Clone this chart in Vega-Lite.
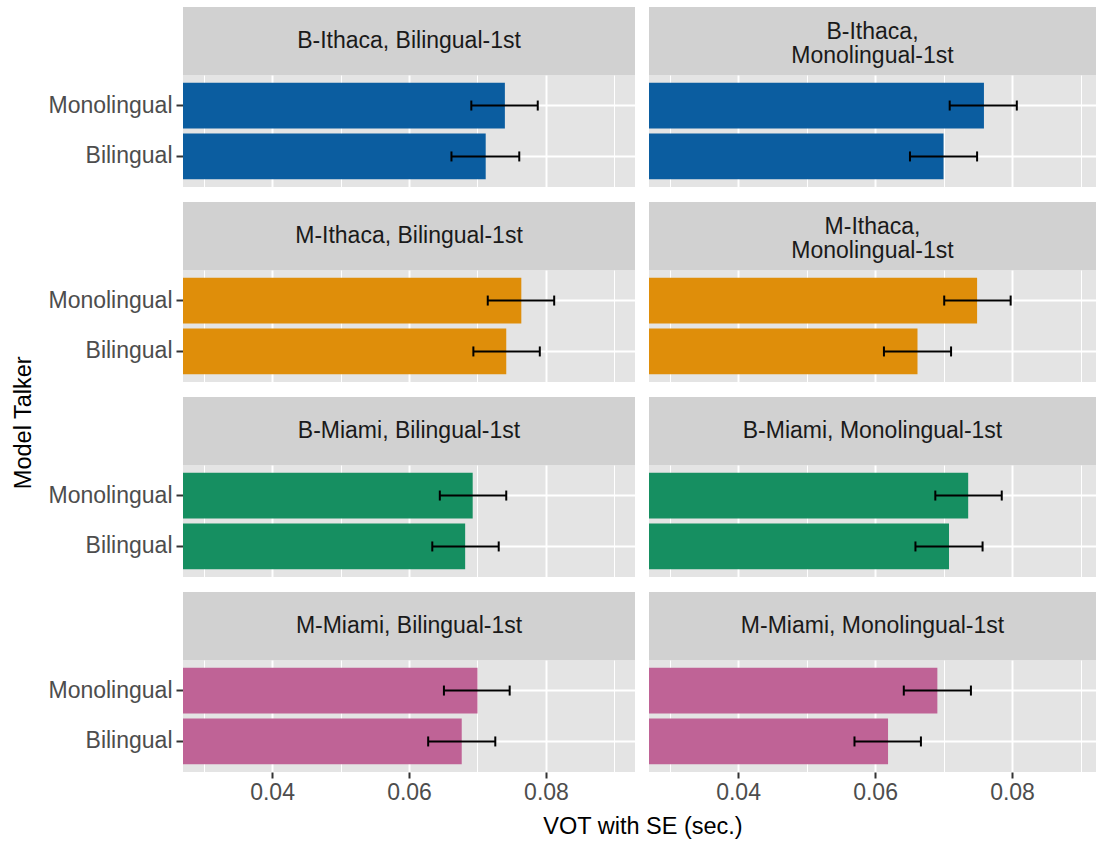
{
  "$schema": "https://vega.github.io/schema/vega-lite/v6.json",
  "padding": {"left": 12, "top": 7, "right": 0, "bottom": 0},
  "background": "#FFFFFF",
  "title": {"text": "Model Talker", "orient": "left", "anchor": "middle", "frame": "bounds", "fontSize": 23.5, "fontWeight": "normal", "font": "Liberation Sans", "color": "#000000", "offset": 12},
  "datasets": {
    "vot": [
      {"talker": "B-Ithaca", "block": "Bilingual-1st", "speaker": "Monolingual", "vot": 0.0740, "lo": 0.0691, "hi": 0.0788},
      {"talker": "B-Ithaca", "block": "Bilingual-1st", "speaker": "Bilingual", "vot": 0.0712, "lo": 0.0662, "hi": 0.0761},
      {"talker": "B-Ithaca", "block": "Monolingual-1st", "speaker": "Monolingual", "vot": 0.0759, "lo": 0.0709, "hi": 0.0807},
      {"talker": "B-Ithaca", "block": "Monolingual-1st", "speaker": "Bilingual", "vot": 0.0700, "lo": 0.0651, "hi": 0.0749},
      {"talker": "M-Ithaca", "block": "Bilingual-1st", "speaker": "Monolingual", "vot": 0.0764, "lo": 0.0715, "hi": 0.0812},
      {"talker": "M-Ithaca", "block": "Bilingual-1st", "speaker": "Bilingual", "vot": 0.0742, "lo": 0.0694, "hi": 0.0791},
      {"talker": "M-Ithaca", "block": "Monolingual-1st", "speaker": "Monolingual", "vot": 0.0749, "lo": 0.0701, "hi": 0.0798},
      {"talker": "M-Ithaca", "block": "Monolingual-1st", "speaker": "Bilingual", "vot": 0.0662, "lo": 0.0613, "hi": 0.0711},
      {"talker": "B-Miami", "block": "Bilingual-1st", "speaker": "Monolingual", "vot": 0.0693, "lo": 0.0645, "hi": 0.0742},
      {"talker": "B-Miami", "block": "Bilingual-1st", "speaker": "Bilingual", "vot": 0.0682, "lo": 0.0634, "hi": 0.0731},
      {"talker": "B-Miami", "block": "Monolingual-1st", "speaker": "Monolingual", "vot": 0.0736, "lo": 0.0688, "hi": 0.0785},
      {"talker": "B-Miami", "block": "Monolingual-1st", "speaker": "Bilingual", "vot": 0.0708, "lo": 0.0659, "hi": 0.0757},
      {"talker": "M-Miami", "block": "Bilingual-1st", "speaker": "Monolingual", "vot": 0.0700, "lo": 0.0651, "hi": 0.0747},
      {"talker": "M-Miami", "block": "Bilingual-1st", "speaker": "Bilingual", "vot": 0.0677, "lo": 0.0628, "hi": 0.0726},
      {"talker": "M-Miami", "block": "Monolingual-1st", "speaker": "Monolingual", "vot": 0.0691, "lo": 0.0642, "hi": 0.0740},
      {"talker": "M-Miami", "block": "Monolingual-1st", "speaker": "Bilingual", "vot": 0.0619, "lo": 0.0570, "hi": 0.0667}
    ],
    "strips": [
      {"talker": "B-Ithaca", "block": "Bilingual-1st", "label": "B-Ithaca, Bilingual-1st"},
      {"talker": "B-Ithaca", "block": "Monolingual-1st", "label": "B-Ithaca,\nMonolingual-1st"},
      {"talker": "M-Ithaca", "block": "Bilingual-1st", "label": "M-Ithaca, Bilingual-1st"},
      {"talker": "M-Ithaca", "block": "Monolingual-1st", "label": "M-Ithaca,\nMonolingual-1st"},
      {"talker": "B-Miami", "block": "Bilingual-1st", "label": "B-Miami, Bilingual-1st"},
      {"talker": "B-Miami", "block": "Monolingual-1st", "label": "B-Miami, Monolingual-1st"},
      {"talker": "M-Miami", "block": "Bilingual-1st", "label": "M-Miami, Bilingual-1st"},
      {"talker": "M-Miami", "block": "Monolingual-1st", "label": "M-Miami, Monolingual-1st"}
    ]
  },
  "spacing": 15,
  "vconcat": [
    {"hconcat": [
      {"vconcat": [
        {"width": 452, "height": 68, "view": {"fill": "#D1D1D1", "stroke": null}, "data": {"name": "strips"}, "transform": [{"filter": "datum.talker == 'B-Ithaca' && datum.block == 'Bilingual-1st'"}], "mark": {"type": "text", "fontSize": 23, "color": "#1A1A1A", "lineBreak": "\n", "lineHeight": 24, "baseline": "middle", "align": "center"}, "encoding": {"text": {"field": "label", "type": "nominal"}}},
        {"width": 452, "height": 112, "view": {"fill": "#E4E4E4", "stroke": null}, "data": {"name": "vot"}, "transform": [{"filter": "datum.talker == 'B-Ithaca' && datum.block == 'Bilingual-1st'"}],
         "encoding": {"y": {"field": "speaker", "type": "nominal", "scale": {"domain": ["Monolingual", "Bilingual"], "paddingInner": 0.1, "paddingOuter": 0.15}, "axis": {"title": null, "domain": false, "labels": true, "labelFontSize": 23, "labelColor": "#4D4D4D", "labelPadding": 4, "ticks": true, "tickSize": 7, "tickWidth": 2, "tickColor": "#333333", "grid": true, "gridColor": "#FFFFFF", "gridWidth": 2, "bandPosition": 0.5}}},
         "layer": [
          {"mark": {"type": "bar", "color": "#0B5DA0", "clip": true}, "encoding": {"x": {"field": "vot", "type": "quantitative", "scale": {"domain": [0.027, 0.093], "nice": false, "zero": false}, "axis": {"values": [0.03, 0.04, 0.05, 0.06, 0.07, 0.08, 0.09], "labels": false, "ticks": false, "domain": false, "title": null, "grid": true, "gridColor": "#FFFFFF", "gridWidth": {"condition": {"test": "round(datum.value*100) % 2 == 0", "value": 2}, "value": 1}}}}},
          {"mark": {"type": "rule", "color": "#000000", "strokeWidth": 2}, "encoding": {"x": {"field": "lo", "type": "quantitative", "scale": {"domain": [0.027, 0.093], "nice": false, "zero": false}}, "x2": {"field": "hi"}}},
          {"transform": [{"fold": ["lo", "hi"], "as": ["end", "val"]}], "mark": {"type": "tick", "color": "#000000", "thickness": 2, "size": 10, "opacity": 1}, "encoding": {"x": {"field": "val", "type": "quantitative", "scale": {"domain": [0.027, 0.093], "nice": false, "zero": false}}}}
         ]}
      ], "spacing": 0, "bounds": "flush"},
      {"vconcat": [
        {"width": 447, "height": 68, "view": {"fill": "#D1D1D1", "stroke": null}, "data": {"name": "strips"}, "transform": [{"filter": "datum.talker == 'B-Ithaca' && datum.block == 'Monolingual-1st'"}], "mark": {"type": "text", "fontSize": 23, "color": "#1A1A1A", "lineBreak": "\n", "lineHeight": 24, "baseline": "middle", "align": "center", "dy": -9}, "encoding": {"text": {"field": "label", "type": "nominal"}}},
        {"width": 447, "height": 112, "view": {"fill": "#E4E4E4", "stroke": null}, "data": {"name": "vot"}, "transform": [{"filter": "datum.talker == 'B-Ithaca' && datum.block == 'Monolingual-1st'"}],
         "encoding": {"y": {"field": "speaker", "type": "nominal", "scale": {"domain": ["Monolingual", "Bilingual"], "paddingInner": 0.1, "paddingOuter": 0.15}, "axis": {"title": null, "domain": false, "labels": false, "ticks": false, "grid": true, "gridColor": "#FFFFFF", "gridWidth": 2, "bandPosition": 0.5}}},
         "layer": [
          {"mark": {"type": "bar", "color": "#0B5DA0", "clip": true}, "encoding": {"x": {"field": "vot", "type": "quantitative", "scale": {"domain": [0.027, 0.09226], "nice": false, "zero": false}, "axis": {"values": [0.03, 0.04, 0.05, 0.06, 0.07, 0.08, 0.09], "labels": false, "ticks": false, "domain": false, "title": null, "grid": true, "gridColor": "#FFFFFF", "gridWidth": {"condition": {"test": "round(datum.value*100) % 2 == 0", "value": 2}, "value": 1}}}}},
          {"mark": {"type": "rule", "color": "#000000", "strokeWidth": 2}, "encoding": {"x": {"field": "lo", "type": "quantitative", "scale": {"domain": [0.027, 0.09226], "nice": false, "zero": false}}, "x2": {"field": "hi"}}},
          {"transform": [{"fold": ["lo", "hi"], "as": ["end", "val"]}], "mark": {"type": "tick", "color": "#000000", "thickness": 2, "size": 10, "opacity": 1}, "encoding": {"x": {"field": "val", "type": "quantitative", "scale": {"domain": [0.027, 0.09226], "nice": false, "zero": false}}}}
         ]}
      ], "spacing": 0, "bounds": "flush"}
    ], "spacing": 14},
    {"hconcat": [
      {"vconcat": [
        {"width": 452, "height": 68, "view": {"fill": "#D1D1D1", "stroke": null}, "data": {"name": "strips"}, "transform": [{"filter": "datum.talker == 'M-Ithaca' && datum.block == 'Bilingual-1st'"}], "mark": {"type": "text", "fontSize": 23, "color": "#1A1A1A", "lineBreak": "\n", "lineHeight": 24, "baseline": "middle", "align": "center"}, "encoding": {"text": {"field": "label", "type": "nominal"}}},
        {"width": 452, "height": 112, "view": {"fill": "#E4E4E4", "stroke": null}, "data": {"name": "vot"}, "transform": [{"filter": "datum.talker == 'M-Ithaca' && datum.block == 'Bilingual-1st'"}],
         "encoding": {"y": {"field": "speaker", "type": "nominal", "scale": {"domain": ["Monolingual", "Bilingual"], "paddingInner": 0.1, "paddingOuter": 0.15}, "axis": {"title": null, "domain": false, "labels": true, "labelFontSize": 23, "labelColor": "#4D4D4D", "labelPadding": 4, "ticks": true, "tickSize": 7, "tickWidth": 2, "tickColor": "#333333", "grid": true, "gridColor": "#FFFFFF", "gridWidth": 2, "bandPosition": 0.5}}},
         "layer": [
          {"mark": {"type": "bar", "color": "#DF8E0A", "clip": true}, "encoding": {"x": {"field": "vot", "type": "quantitative", "scale": {"domain": [0.027, 0.093], "nice": false, "zero": false}, "axis": {"values": [0.03, 0.04, 0.05, 0.06, 0.07, 0.08, 0.09], "labels": false, "ticks": false, "domain": false, "title": null, "grid": true, "gridColor": "#FFFFFF", "gridWidth": {"condition": {"test": "round(datum.value*100) % 2 == 0", "value": 2}, "value": 1}}}}},
          {"mark": {"type": "rule", "color": "#000000", "strokeWidth": 2}, "encoding": {"x": {"field": "lo", "type": "quantitative", "scale": {"domain": [0.027, 0.093], "nice": false, "zero": false}}, "x2": {"field": "hi"}}},
          {"transform": [{"fold": ["lo", "hi"], "as": ["end", "val"]}], "mark": {"type": "tick", "color": "#000000", "thickness": 2, "size": 10, "opacity": 1}, "encoding": {"x": {"field": "val", "type": "quantitative", "scale": {"domain": [0.027, 0.093], "nice": false, "zero": false}}}}
         ]}
      ], "spacing": 0, "bounds": "flush"},
      {"vconcat": [
        {"width": 447, "height": 68, "view": {"fill": "#D1D1D1", "stroke": null}, "data": {"name": "strips"}, "transform": [{"filter": "datum.talker == 'M-Ithaca' && datum.block == 'Monolingual-1st'"}], "mark": {"type": "text", "fontSize": 23, "color": "#1A1A1A", "lineBreak": "\n", "lineHeight": 24, "baseline": "middle", "align": "center", "dy": -9}, "encoding": {"text": {"field": "label", "type": "nominal"}}},
        {"width": 447, "height": 112, "view": {"fill": "#E4E4E4", "stroke": null}, "data": {"name": "vot"}, "transform": [{"filter": "datum.talker == 'M-Ithaca' && datum.block == 'Monolingual-1st'"}],
         "encoding": {"y": {"field": "speaker", "type": "nominal", "scale": {"domain": ["Monolingual", "Bilingual"], "paddingInner": 0.1, "paddingOuter": 0.15}, "axis": {"title": null, "domain": false, "labels": false, "ticks": false, "grid": true, "gridColor": "#FFFFFF", "gridWidth": 2, "bandPosition": 0.5}}},
         "layer": [
          {"mark": {"type": "bar", "color": "#DF8E0A", "clip": true}, "encoding": {"x": {"field": "vot", "type": "quantitative", "scale": {"domain": [0.027, 0.09226], "nice": false, "zero": false}, "axis": {"values": [0.03, 0.04, 0.05, 0.06, 0.07, 0.08, 0.09], "labels": false, "ticks": false, "domain": false, "title": null, "grid": true, "gridColor": "#FFFFFF", "gridWidth": {"condition": {"test": "round(datum.value*100) % 2 == 0", "value": 2}, "value": 1}}}}},
          {"mark": {"type": "rule", "color": "#000000", "strokeWidth": 2}, "encoding": {"x": {"field": "lo", "type": "quantitative", "scale": {"domain": [0.027, 0.09226], "nice": false, "zero": false}}, "x2": {"field": "hi"}}},
          {"transform": [{"fold": ["lo", "hi"], "as": ["end", "val"]}], "mark": {"type": "tick", "color": "#000000", "thickness": 2, "size": 10, "opacity": 1}, "encoding": {"x": {"field": "val", "type": "quantitative", "scale": {"domain": [0.027, 0.09226], "nice": false, "zero": false}}}}
         ]}
      ], "spacing": 0, "bounds": "flush"}
    ], "spacing": 14},
    {"hconcat": [
      {"vconcat": [
        {"width": 452, "height": 68, "view": {"fill": "#D1D1D1", "stroke": null}, "data": {"name": "strips"}, "transform": [{"filter": "datum.talker == 'B-Miami' && datum.block == 'Bilingual-1st'"}], "mark": {"type": "text", "fontSize": 23, "color": "#1A1A1A", "lineBreak": "\n", "lineHeight": 24, "baseline": "middle", "align": "center"}, "encoding": {"text": {"field": "label", "type": "nominal"}}},
        {"width": 452, "height": 112, "view": {"fill": "#E4E4E4", "stroke": null}, "data": {"name": "vot"}, "transform": [{"filter": "datum.talker == 'B-Miami' && datum.block == 'Bilingual-1st'"}],
         "encoding": {"y": {"field": "speaker", "type": "nominal", "scale": {"domain": ["Monolingual", "Bilingual"], "paddingInner": 0.1, "paddingOuter": 0.15}, "axis": {"title": null, "domain": false, "labels": true, "labelFontSize": 23, "labelColor": "#4D4D4D", "labelPadding": 4, "ticks": true, "tickSize": 7, "tickWidth": 2, "tickColor": "#333333", "grid": true, "gridColor": "#FFFFFF", "gridWidth": 2, "bandPosition": 0.5}}},
         "layer": [
          {"mark": {"type": "bar", "color": "#168F61", "clip": true}, "encoding": {"x": {"field": "vot", "type": "quantitative", "scale": {"domain": [0.027, 0.093], "nice": false, "zero": false}, "axis": {"values": [0.03, 0.04, 0.05, 0.06, 0.07, 0.08, 0.09], "labels": false, "ticks": false, "domain": false, "title": null, "grid": true, "gridColor": "#FFFFFF", "gridWidth": {"condition": {"test": "round(datum.value*100) % 2 == 0", "value": 2}, "value": 1}}}}},
          {"mark": {"type": "rule", "color": "#000000", "strokeWidth": 2}, "encoding": {"x": {"field": "lo", "type": "quantitative", "scale": {"domain": [0.027, 0.093], "nice": false, "zero": false}}, "x2": {"field": "hi"}}},
          {"transform": [{"fold": ["lo", "hi"], "as": ["end", "val"]}], "mark": {"type": "tick", "color": "#000000", "thickness": 2, "size": 10, "opacity": 1}, "encoding": {"x": {"field": "val", "type": "quantitative", "scale": {"domain": [0.027, 0.093], "nice": false, "zero": false}}}}
         ]}
      ], "spacing": 0, "bounds": "flush"},
      {"vconcat": [
        {"width": 447, "height": 68, "view": {"fill": "#D1D1D1", "stroke": null}, "data": {"name": "strips"}, "transform": [{"filter": "datum.talker == 'B-Miami' && datum.block == 'Monolingual-1st'"}], "mark": {"type": "text", "fontSize": 23, "color": "#1A1A1A", "lineBreak": "\n", "lineHeight": 24, "baseline": "middle", "align": "center"}, "encoding": {"text": {"field": "label", "type": "nominal"}}},
        {"width": 447, "height": 112, "view": {"fill": "#E4E4E4", "stroke": null}, "data": {"name": "vot"}, "transform": [{"filter": "datum.talker == 'B-Miami' && datum.block == 'Monolingual-1st'"}],
         "encoding": {"y": {"field": "speaker", "type": "nominal", "scale": {"domain": ["Monolingual", "Bilingual"], "paddingInner": 0.1, "paddingOuter": 0.15}, "axis": {"title": null, "domain": false, "labels": false, "ticks": false, "grid": true, "gridColor": "#FFFFFF", "gridWidth": 2, "bandPosition": 0.5}}},
         "layer": [
          {"mark": {"type": "bar", "color": "#168F61", "clip": true}, "encoding": {"x": {"field": "vot", "type": "quantitative", "scale": {"domain": [0.027, 0.09226], "nice": false, "zero": false}, "axis": {"values": [0.03, 0.04, 0.05, 0.06, 0.07, 0.08, 0.09], "labels": false, "ticks": false, "domain": false, "title": null, "grid": true, "gridColor": "#FFFFFF", "gridWidth": {"condition": {"test": "round(datum.value*100) % 2 == 0", "value": 2}, "value": 1}}}}},
          {"mark": {"type": "rule", "color": "#000000", "strokeWidth": 2}, "encoding": {"x": {"field": "lo", "type": "quantitative", "scale": {"domain": [0.027, 0.09226], "nice": false, "zero": false}}, "x2": {"field": "hi"}}},
          {"transform": [{"fold": ["lo", "hi"], "as": ["end", "val"]}], "mark": {"type": "tick", "color": "#000000", "thickness": 2, "size": 10, "opacity": 1}, "encoding": {"x": {"field": "val", "type": "quantitative", "scale": {"domain": [0.027, 0.09226], "nice": false, "zero": false}}}}
         ]}
      ], "spacing": 0, "bounds": "flush"}
    ], "spacing": 14},
    {"hconcat": [
      {"vconcat": [
        {"width": 452, "height": 68, "view": {"fill": "#D1D1D1", "stroke": null}, "data": {"name": "strips"}, "transform": [{"filter": "datum.talker == 'M-Miami' && datum.block == 'Bilingual-1st'"}], "mark": {"type": "text", "fontSize": 23, "color": "#1A1A1A", "lineBreak": "\n", "lineHeight": 24, "baseline": "middle", "align": "center"}, "encoding": {"text": {"field": "label", "type": "nominal"}}},
        {"width": 452, "height": 112, "view": {"fill": "#E4E4E4", "stroke": null}, "data": {"name": "vot"}, "transform": [{"filter": "datum.talker == 'M-Miami' && datum.block == 'Bilingual-1st'"}],
         "encoding": {"y": {"field": "speaker", "type": "nominal", "scale": {"domain": ["Monolingual", "Bilingual"], "paddingInner": 0.1, "paddingOuter": 0.15}, "axis": {"title": null, "domain": false, "labels": true, "labelFontSize": 23, "labelColor": "#4D4D4D", "labelPadding": 4, "ticks": true, "tickSize": 7, "tickWidth": 2, "tickColor": "#333333", "grid": true, "gridColor": "#FFFFFF", "gridWidth": 2, "bandPosition": 0.5}}},
         "layer": [
          {"mark": {"type": "bar", "color": "#BF6396", "clip": true}, "encoding": {"x": {"field": "vot", "type": "quantitative", "scale": {"domain": [0.027, 0.093], "nice": false, "zero": false}, "axis": {"values": [0.03, 0.04, 0.05, 0.06, 0.07, 0.08, 0.09], "labels": true, "labelExpr": "round(datum.value*100) % 2 == 0 ? format(datum.value, '.2f') : ''", "labelOverlap": false, "labelFlush": false, "labelPadding": 3, "labelFontSize": 23, "labelColor": "#4D4D4D", "ticks": true, "tickSize": 6, "tickWidth": 2, "tickColor": {"condition": {"test": "round(datum.value*100) % 2 == 0", "value": "#333333"}, "value": "transparent"}, "domain": false, "grid": true, "gridColor": "#FFFFFF", "gridWidth": {"condition": {"test": "round(datum.value*100) % 2 == 0", "value": 2}, "value": 1}, "title": null}}}},
          {"mark": {"type": "rule", "color": "#000000", "strokeWidth": 2}, "encoding": {"x": {"field": "lo", "type": "quantitative", "scale": {"domain": [0.027, 0.093], "nice": false, "zero": false}}, "x2": {"field": "hi"}}},
          {"transform": [{"fold": ["lo", "hi"], "as": ["end", "val"]}], "mark": {"type": "tick", "color": "#000000", "thickness": 2, "size": 10, "opacity": 1}, "encoding": {"x": {"field": "val", "type": "quantitative", "scale": {"domain": [0.027, 0.093], "nice": false, "zero": false}}}}
         ]}
      ], "spacing": 0, "bounds": "flush"},
      {"vconcat": [
        {"width": 447, "height": 68, "view": {"fill": "#D1D1D1", "stroke": null}, "data": {"name": "strips"}, "transform": [{"filter": "datum.talker == 'M-Miami' && datum.block == 'Monolingual-1st'"}], "mark": {"type": "text", "fontSize": 23, "color": "#1A1A1A", "lineBreak": "\n", "lineHeight": 24, "baseline": "middle", "align": "center"}, "encoding": {"text": {"field": "label", "type": "nominal"}}},
        {"width": 447, "height": 112, "view": {"fill": "#E4E4E4", "stroke": null}, "data": {"name": "vot"}, "transform": [{"filter": "datum.talker == 'M-Miami' && datum.block == 'Monolingual-1st'"}],
         "encoding": {"y": {"field": "speaker", "type": "nominal", "scale": {"domain": ["Monolingual", "Bilingual"], "paddingInner": 0.1, "paddingOuter": 0.15}, "axis": {"title": null, "domain": false, "labels": false, "ticks": false, "grid": true, "gridColor": "#FFFFFF", "gridWidth": 2, "bandPosition": 0.5}}},
         "layer": [
          {"mark": {"type": "bar", "color": "#BF6396", "clip": true}, "encoding": {"x": {"field": "vot", "type": "quantitative", "scale": {"domain": [0.027, 0.09226], "nice": false, "zero": false}, "axis": {"values": [0.03, 0.04, 0.05, 0.06, 0.07, 0.08, 0.09], "labels": true, "labelExpr": "round(datum.value*100) % 2 == 0 ? format(datum.value, '.2f') : ''", "labelOverlap": false, "labelFlush": false, "labelPadding": 3, "labelFontSize": 23, "labelColor": "#4D4D4D", "ticks": true, "tickSize": 6, "tickWidth": 2, "tickColor": {"condition": {"test": "round(datum.value*100) % 2 == 0", "value": "#333333"}, "value": "transparent"}, "domain": false, "grid": true, "gridColor": "#FFFFFF", "gridWidth": {"condition": {"test": "round(datum.value*100) % 2 == 0", "value": 2}, "value": 1}, "title": null}}}},
          {"mark": {"type": "rule", "color": "#000000", "strokeWidth": 2}, "encoding": {"x": {"field": "lo", "type": "quantitative", "scale": {"domain": [0.027, 0.09226], "nice": false, "zero": false}}, "x2": {"field": "hi"}}},
          {"transform": [{"fold": ["lo", "hi"], "as": ["end", "val"]}], "mark": {"type": "tick", "color": "#000000", "thickness": 2, "size": 10, "opacity": 1}, "encoding": {"x": {"field": "val", "type": "quantitative", "scale": {"domain": [0.027, 0.09226], "nice": false, "zero": false}}}}
         ]}
      ], "spacing": 0, "bounds": "flush"}
    ], "spacing": 14,
    "title": {"text": "VOT with SE (sec.)", "orient": "bottom", "anchor": "middle", "frame": "bounds", "dx": 71, "offset": 11, "fontSize": 23.5, "fontWeight": "normal", "font": "Liberation Sans", "color": "#000000"}}
  ],
  "config": {
    "font": "Liberation Sans",
    "view": {"stroke": null},
    "axis": {"labelFont": "Liberation Sans", "titleFont": "Liberation Sans", "titleFontSize": 23.5, "titleFontWeight": "normal", "titleColor": "#000000"},
    "text": {"font": "Liberation Sans"}
  }
}
